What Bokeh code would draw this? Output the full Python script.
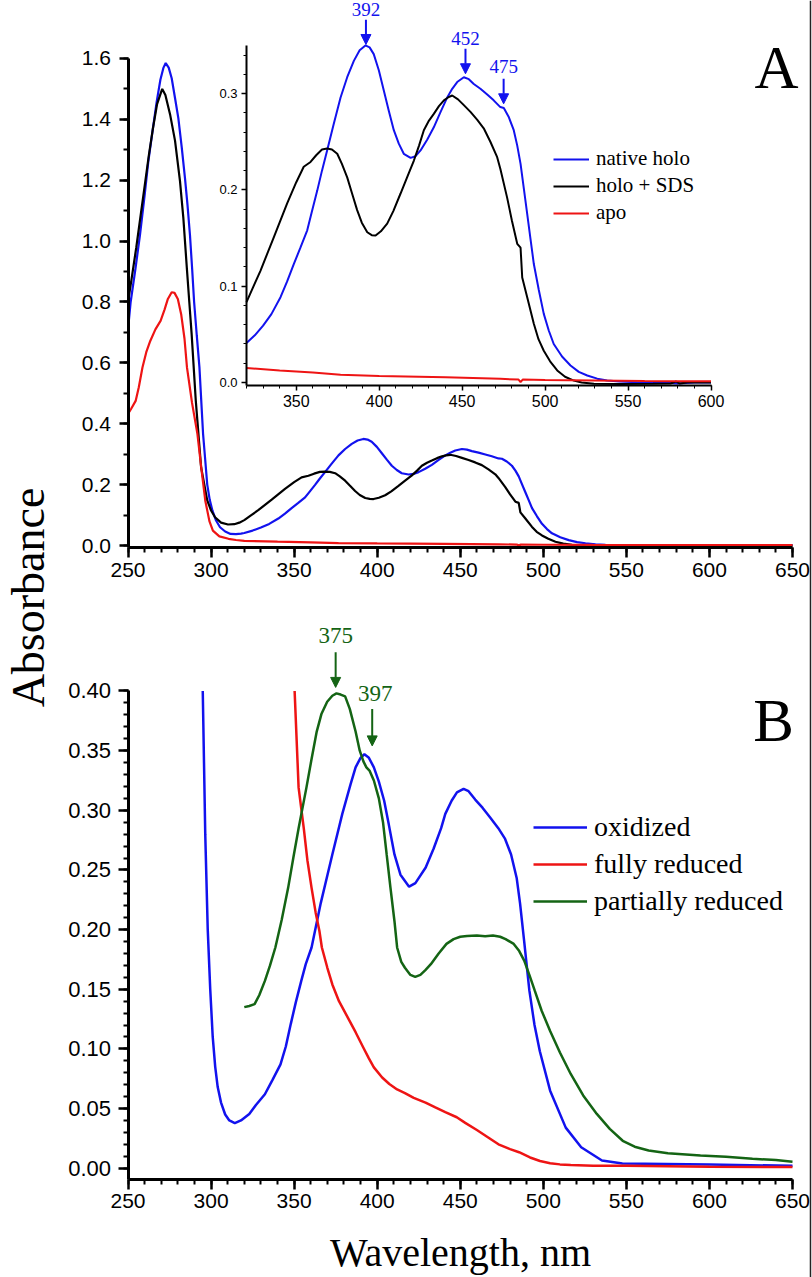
import numpy as np
from bokeh.plotting import figure
from bokeh.models import (Range1d, LinearAxis, SingleIntervalTicker, PrintfTickFormatter,
                          Legend, LegendItem, Label, Arrow, NormalHead, ColumnDataSource, Span)
from bokeh.embed import file_html
from bokeh.resources import INLINE
from bokeh.core.properties import value

# ---------------- Panel A data (wavelength nm, absorbance) ----------------
native_holo_wl = [250, 251.6, 254.5, 257.2, 260, 262.2, 265, 267.3, 269.5, 271.3, 272.7, 274.5, 276.3,
                  278.3, 280.3, 282.3, 284.3, 285.8, 287.3, 288.6, 289.8, 291.4, 293, 294.1, 295.2,
                  296.5, 297.7, 299.2, 300.8, 303, 305.4, 308.5, 311.7, 315, 318, 320, 325, 330, 335,
                  340.5, 344.5, 348.5, 352.5, 356.6, 359.5, 362.6, 365.5, 368.6, 372.5, 376.7, 380.7,
                  384.7, 388.2, 391.7, 394.2, 396.7, 399.8, 402.8, 405.8, 408.8, 411.8, 414.8, 418.9,
                  421.9, 424.9, 428.9, 432.9, 437, 441, 444, 447, 451, 454, 457, 461, 465.1, 469, 473,
                  475.1, 478, 481.1, 483.2, 485.2, 487.2, 489.2, 491.2, 493.2, 496.2, 499.2, 502.2,
                  505.2, 510.2, 515.3, 520.3, 525.4, 531.4, 537.4, 545, 555.5, 570, 580, 590, 600, 625, 650]
native_holo_abs = [0.71, 0.80, 0.91, 1.02, 1.15, 1.26, 1.37, 1.459, 1.53, 1.569, 1.585, 1.57, 1.535,
                   1.47, 1.404, 1.31, 1.207, 1.12, 1.02, 0.91, 0.80, 0.69, 0.585, 0.475, 0.366,
                   0.28, 0.20, 0.15, 0.115, 0.082, 0.060, 0.046, 0.038, 0.0375, 0.039, 0.041, 0.049, 0.059, 0.071,
                   0.0886, 0.105, 0.123, 0.140, 0.158, 0.178, 0.199, 0.220, 0.241, 0.268, 0.296, 0.317,
                   0.334, 0.345, 0.350, 0.348, 0.341, 0.324, 0.303, 0.282, 0.262, 0.248, 0.2375, 0.2333,
                   0.235, 0.241, 0.252, 0.265, 0.281, 0.296, 0.305, 0.312, 0.317, 0.315, 0.310, 0.305, 0.299, 0.293, 0.286,
                   0.285, 0.276, 0.262, 0.246, 0.227, 0.201, 0.175, 0.149, 0.123, 0.096, 0.0713, 0.054,
                   0.040, 0.027, 0.0177, 0.011, 0.0073, 0.004, 0.002, 0.001, 0.0003, 0.0, -0.001, 0.0, 0.0, 0.0005, 0.001]

holo_sds_wl = [250, 252, 255, 257.5, 260, 262.5, 265, 267.5, 270.6, 272.5, 275.3, 278.3, 281.3, 283.3,
               285.4, 286.9, 288.3, 290.8, 294, 297.7, 300, 302.4, 306, 310.2, 314, 317, 320, 324, 328.4,
               336.5, 344.5, 350, 354.5, 358.6, 362, 365.5, 368.6, 371.5, 374.7, 377.5, 380.7, 383.5,
               386.7, 389.5, 392.8, 395.5, 397.8, 401, 404.8, 408.5, 412.8, 416.8, 420.9, 424, 426.9,
               430, 432.9, 436, 439, 441.5, 444, 447.5, 451, 455, 459, 463, 467, 471.1, 473, 477.1, 480,
               483.2, 485.2, 486.2, 489.2, 493.2, 496, 499.2, 503, 507.3, 512, 517.3, 522, 529.4, 545.5,
               565, 575.6, 579, 581, 585.6, 600, 625, 650]
holo_sds_abs = [0.80, 0.87, 0.98, 1.08, 1.18, 1.28, 1.37, 1.45, 1.50, 1.48, 1.417, 1.33, 1.197, 1.077,
                0.913, 0.80, 0.695, 0.476, 0.257, 0.148, 0.115, 0.093, 0.075, 0.069, 0.070, 0.075, 0.0834, 0.099, 0.116,
                0.151, 0.186, 0.208, 0.224, 0.229, 0.236, 0.242, 0.243, 0.242, 0.2375, 0.227, 0.213, 0.197,
                0.179, 0.166, 0.156, 0.153, 0.1526, 0.157, 0.165, 0.178, 0.196, 0.213, 0.2305, 0.246, 0.262,
                0.272, 0.279, 0.287, 0.293, 0.296, 0.298, 0.294, 0.288, 0.281, 0.273, 0.264, 0.250, 0.234, 0.222, 0.192, 0.168,
                0.144, 0.140, 0.109, 0.0886, 0.061, 0.045, 0.033, 0.022, 0.0125, 0.006, 0.002, 0.0, -0.0014, -0.0015,
                -0.0012, -0.001, 0.001, -0.001, 0.0, 0.0, 0.0, 0.0]

apo_wl = [250, 252, 254.6, 256.5, 258.7, 261, 263.4, 266.5, 269.6, 272, 274, 276.3, 278, 280, 282, 284,
          285.5, 288.5, 291.8, 294, 296.5, 299, 301.1, 305, 310.5, 315, 320, 340, 360, 376.7, 400, 440,
          473, 484, 485.2, 486.5, 500, 530, 560, 585.6, 600, 625, 650]
apo_abs = [0.432, 0.45, 0.475, 0.52, 0.585, 0.635, 0.672, 0.71, 0.738, 0.775, 0.81, 0.832, 0.83, 0.81, 0.76, 0.68,
           0.585, 0.47, 0.366, 0.26, 0.148, 0.08, 0.049, 0.03, 0.022, 0.018, 0.015, 0.0125, 0.0105, 0.008, 0.0068, 0.0055,
           0.0038, 0.003, 0.0005, 0.003, 0.0025, 0.002, 0.0016, 0.0014, 0.0014, 0.0012, 0.0012]

# peak markers (inset)
a_peak_nm = [392, 452, 475]
a_peak_tip = [0.351, 0.3206, 0.2894]
a_peak_tail = [0.3766, 0.3465, 0.3154]
a_peak_text_y = [0.3875, 0.3574, 0.3281]
a_peak_text = ["392", "452", "475"]

# ---------------- Panel B data ----------------
oxidized_wl = [295, 296.5, 298, 299.5, 301, 302.5, 304, 306, 308.5, 311, 314.3, 318, 323, 327, 332.4, 337,
               341.8, 345, 348, 351, 354.3, 357, 360.5, 366, 373, 379, 384, 387, 390, 392.3, 395, 398, 401,
               404.2, 407, 410.4, 414, 419.2, 423, 429.2, 434, 438.5, 441, 444.8, 448, 452, 455, 459, 463.5,
               468, 472.9, 477, 480.6, 484, 486, 488.5, 491.6, 494.7, 497.9, 504.1, 513.5, 522.8, 535.3,
               547.6, 600, 650]
oxidized_abs = [0.400, 0.28, 0.20, 0.15, 0.11, 0.085, 0.068, 0.055, 0.045, 0.040, 0.0377, 0.040, 0.0455, 0.053, 0.062, 0.074,
                0.087, 0.102, 0.121, 0.139, 0.157, 0.171, 0.185, 0.222, 0.263, 0.297, 0.322, 0.336, 0.344, 0.347, 0.344, 0.336, 0.324,
                0.308, 0.288, 0.263, 0.246, 0.236, 0.239, 0.252, 0.268, 0.285, 0.297, 0.308, 0.315, 0.318, 0.316, 0.309, 0.302,
                0.294, 0.285, 0.276, 0.263, 0.243, 0.222, 0.19, 0.149, 0.12, 0.098, 0.065, 0.034, 0.0176, 0.0064,
                0.004, 0.003, 0.002]

fully_reduced_wl = [350.3, 352.7, 355.8, 358, 360.5, 363, 365.2, 366.7, 370, 373, 377, 382.4, 387, 391.7, 395,
                    398, 403, 407.3, 412, 416.7, 422, 429.1, 435, 441, 447.9, 453, 460, 466.6, 473, 480, 485.4,
                    492, 498, 504.1, 510, 516.5, 530, 550, 600, 650]
fully_reduced_abs = [0.400, 0.319, 0.285, 0.258, 0.235, 0.214, 0.199, 0.185, 0.168, 0.154, 0.140, 0.126, 0.114, 0.101, 0.092,
                     0.0845, 0.076, 0.0706, 0.066, 0.063, 0.059, 0.055, 0.051, 0.047, 0.0427, 0.038, 0.032, 0.026, 0.020, 0.016, 0.0134,
                     0.009, 0.006, 0.0042, 0.0032, 0.0027, 0.002, 0.002, 0.0012, 0.001]

partially_reduced_wl = [320, 323, 326.2, 329, 332.4, 335.5, 338.7, 342.5, 346.4, 349.5, 352.7, 357.4, 360.5, 363.6,
                        366.5, 369.9, 373, 375.5, 378, 380.7, 383.5, 387, 389.5, 391.7, 393.5, 395.5, 398, 401,
                        403.5, 405.7, 408, 410.4, 412, 414.5, 416.7, 420, 422.9, 426, 429, 432.3, 437, 441.7, 446,
                        450, 454.1, 460, 465, 469.7, 474, 477.3, 482.2, 485.5, 488.5, 491.6, 494.8, 499, 504.1, 510,
                        516.5, 524, 532.2, 540, 547.8, 555, 563.4, 575, 594.6, 610, 625.9, 640, 650]
partially_reduced_abs = [0.135, 0.136, 0.1375, 0.145, 0.157, 0.170, 0.185, 0.208, 0.235, 0.260, 0.285, 0.319, 0.343, 0.366,
                         0.381, 0.391, 0.396, 0.398, 0.397, 0.3955, 0.385, 0.366, 0.350, 0.341, 0.336, 0.333, 0.325, 0.310,
                         0.290, 0.263, 0.235, 0.207, 0.185, 0.173, 0.168, 0.162, 0.1604, 0.162, 0.166, 0.171, 0.180, 0.188, 0.192,
                         0.194, 0.1947, 0.195, 0.1945, 0.195, 0.194, 0.192, 0.188, 0.182, 0.174, 0.162, 0.149, 0.132, 0.115, 0.097,
                         0.079, 0.061, 0.0455, 0.033, 0.023, 0.018, 0.0148, 0.0125, 0.0106, 0.0095, 0.0079, 0.0068, 0.0055]

b_peak_nm = [375, 397]
b_peak_tip = [0.403, 0.354]
b_peak_tail = [0.4325, 0.385]
b_peak_text_y = [0.4467, 0.3983]
b_peak_text = ["375", "397"]

x_major_interval = 50

# ---------------- styling ----------------
BLUE = "#1212ee"
RED = "#ee1414"
BLACK = "#000000"
GREEN = "#146414"
SANS = "Liberation Sans"
SERIF = "Liberation Serif"

W, H = 812, 1277
# The frame fills the whole canvas; every axis is placed with fixed_location.
X0, X1 = 173.25, 662.04          # shared wavelength range (panels A and B)
B_Y0, B_Y1 = -0.09162, 0.97879   # panel B absorbance
A_Y0, A_Y1 = -2.4047, 1.7904     # panel A main absorbance
I_X0, I_X1 = 171.71, 661.18      # inset wavelength
I_Y0, I_Y1 = -0.92939, 0.39668   # inset absorbance

B_AXIS_Y = -0.00947
A_AXIS_Y = -0.00657
I_AXIS_Y = -0.0035

p = figure(width=W, height=H, output_backend="svg", toolbar_location=None, title=None,
           x_range=Range1d(X0, X1), y_range=Range1d(B_Y0, B_Y1),
           x_axis_location=None, y_axis_location=None,
           min_border_left=0, min_border_right=0, min_border_top=0, min_border_bottom=0)
p.extra_y_ranges = {"ay": Range1d(A_Y0, A_Y1), "iy": Range1d(I_Y0, I_Y1)}
p.extra_x_ranges = {"ix": Range1d(I_X0, I_X1)}
p.outline_line_color = None
p.grid.visible = False
p.background_fill_color = "white"
p.border_fill_color = "white"


def style_axis(ax, lw, tw, mto, mnto, font_size, standoff):
    ax.axis_line_width = lw
    ax.axis_line_color = "black"
    ax.major_tick_line_width = tw
    ax.minor_tick_line_width = max(1, tw - 0.5)
    ax.major_tick_in = 0
    ax.major_tick_out = mto
    ax.minor_tick_in = 0
    ax.minor_tick_out = mnto
    ax.major_label_text_font = SANS
    ax.major_label_text_font_size = font_size
    ax.major_label_text_color = "black"
    ax.major_label_standoff = standoff


# ---- panel B axes ----
bx = LinearAxis(fixed_location=B_AXIS_Y, bounds=(250, 650),
                ticker=SingleIntervalTicker(interval=x_major_interval, num_minor_ticks=5))
style_axis(bx, 3, 2.5, 10, 5, "21px", 5)
p.add_layout(bx, "below")
by = LinearAxis(fixed_location=250, bounds=(B_AXIS_Y, 0.4005),
                ticker=SingleIntervalTicker(interval=0.05, num_minor_ticks=5),
                formatter=PrintfTickFormatter(format="%.2f"))
style_axis(by, 3, 2.5, 10, 5, "22px", 7)
p.add_layout(by, "left")

# ---- panel A main axes ----
ax_a = LinearAxis(y_range_name="ay", fixed_location=A_AXIS_Y, bounds=(250, 650),
                  ticker=SingleIntervalTicker(interval=x_major_interval, num_minor_ticks=5))
style_axis(ax_a, 3, 2.5, 10, 5, "21px", 5)
p.add_layout(ax_a, "below")
ay_a = LinearAxis(y_range_name="ay", fixed_location=250, bounds=(A_AXIS_Y, 1.6005),
                  ticker=SingleIntervalTicker(interval=0.2, num_minor_ticks=2),
                  formatter=PrintfTickFormatter(format="%.1f"))
style_axis(ay_a, 3, 2.5, 9, 5, "21px", 8)
p.add_layout(ay_a, "left")

# ---- inset axes ----
ax_i = LinearAxis(x_range_name="ix", y_range_name="iy", fixed_location=I_AXIS_Y, bounds=(320, 600),
                  ticker=SingleIntervalTicker(interval=50, num_minor_ticks=5))
style_axis(ax_i, 2, 1.5, 5, 3, "16px", 4)
p.add_layout(ax_i, "below")
ay_i = LinearAxis(x_range_name="ix", y_range_name="iy", fixed_location=320, bounds=(I_AXIS_Y, 0.35),
                  ticker=SingleIntervalTicker(interval=0.1, num_minor_ticks=5),
                  formatter=PrintfTickFormatter(format="%.1f"))
style_axis(ay_i, 2, 1.5, 5, 3, "13px", 4)
p.add_layout(ay_i, "left")

# ---- panel A main curves ----
p.line(native_holo_wl, native_holo_abs, y_range_name="ay", line_color=BLUE, line_width=2.2)
p.line(holo_sds_wl, holo_sds_abs, y_range_name="ay", line_color=BLACK, line_width=2.2)
p.line(apo_wl, apo_abs, y_range_name="ay", line_color=RED, line_width=2.2)


# ---- inset curves (same spectra, 320-600 nm) ----
def window(wl, ab, lo=320, hi=600):
    w = np.asarray(wl, dtype=float)
    a = np.asarray(ab, dtype=float)
    m = (w >= lo) & (w <= hi)
    return w[m], a[m]


iw, ia = window(native_holo_wl, native_holo_abs)
r_in = p.line(iw, ia, x_range_name="ix", y_range_name="iy", line_color=BLUE, line_width=2)
iw, ia = window(holo_sds_wl, holo_sds_abs)
r_ik = p.line(iw, ia, x_range_name="ix", y_range_name="iy", line_color=BLACK, line_width=2)
iw, ia = window(apo_wl, apo_abs)
r_ir = p.line(iw, ia, x_range_name="ix", y_range_name="iy", line_color=RED, line_width=2)

legA = Legend(items=[LegendItem(label="native holo", renderers=[r_in]),
                     LegendItem(label="holo + SDS", renderers=[r_ik]),
                     LegendItem(label="apo", renderers=[r_ir])],
              location=(553, 1052), label_text_font=SERIF, label_text_font_size="21px",
              label_text_color="black",
              glyph_width=36, glyph_height=20, label_height=20, label_standoff=7, spacing=2,
              padding=0, margin=0, border_line_color=None, background_fill_alpha=0)
p.add_layout(legA)

srcA = ColumnDataSource(dict(x=a_peak_nm, tip=a_peak_tip, tail=a_peak_tail, ty=a_peak_text_y, t=a_peak_text))
p.add_layout(Arrow(end=NormalHead(size=10, fill_color=BLUE, line_color=BLUE, line_width=1),
                   x_start="x", y_start="tail", x_end="x", y_end="tip", source=srcA,
                   line_color=BLUE, line_width=2, x_range_name="ix", y_range_name="iy"))
p.text(x="x", y="ty", text="t", source=srcA, x_range_name="ix", y_range_name="iy",
       text_font=value(SERIF), text_font_size=value("19px"), text_color=BLUE,
       text_align="center", text_baseline="alphabetic")

# ---- panel B curves ----
r_bo = p.line(oxidized_wl, oxidized_abs, line_color=BLUE, line_width=2.5)
r_bf = p.line(fully_reduced_wl, fully_reduced_abs, line_color=RED, line_width=2.5)
r_bp = p.line(partially_reduced_wl, partially_reduced_abs, line_color=GREEN, line_width=2.5)

legB = Legend(items=[LegendItem(label="oxidized", renderers=[r_bo]),
                     LegendItem(label="fully reduced", renderers=[r_bf]),
                     LegendItem(label="partially reduced", renderers=[r_bp])],
              location=(533, 360), label_text_font=SERIF, label_text_font_size="28px",
              label_text_color="black",
              glyph_width=54, glyph_height=30, label_height=30, label_standoff=7, spacing=5,
              padding=0, margin=0, border_line_color=None, background_fill_alpha=0)
p.add_layout(legB)

srcB = ColumnDataSource(dict(x=b_peak_nm, tip=b_peak_tip, tail=b_peak_tail, ty=b_peak_text_y, t=b_peak_text,
                             dx=[0, 3]))
p.add_layout(Arrow(end=NormalHead(size=10, fill_color=GREEN, line_color=GREEN, line_width=1),
                   x_start="x", y_start="tail", x_end="x", y_end="tip", source=srcB,
                   line_color=GREEN, line_width=2))
p.text(x="x", y="ty", text="t", source=srcB, x_offset="dx",
       text_font=value(SERIF), text_font_size=value("23px"), text_color=GREEN,
       text_align="center", text_baseline="alphabetic")

# ---- panel letters and axis titles ----
p.add_layout(Label(x=640.36, y=1.5703, y_range_name="ay", text="A", text_font=SERIF, text_color="black",
                   text_font_size="61px", text_align="center", text_baseline="alphabetic"))
p.add_layout(Label(x=638.55, y=0.3753, text="B", text_font=SERIF, text_color="black",
                   text_font_size="61px", text_align="center", text_baseline="alphabetic"))
p.add_layout(Label(x=190.0, y=0.47837, text="Absorbance", angle=np.pi / 2, text_font=SERIF,
                   text_color="black", text_font_size="46px", text_align="center",
                   text_baseline="alphabetic"))
p.add_layout(Label(x=450.15, y=-0.07067, text="Wavelength, nm", text_font=SERIF, text_color="black",
                   text_font_size="40px", text_align="center", text_baseline="alphabetic"))

# thin border line at the right edge of the original figure
p.add_layout(Span(location=660.83, dimension="height", line_color="#222222", line_width=1.5))

open("out.html", "w").write(file_html(p, INLINE))
